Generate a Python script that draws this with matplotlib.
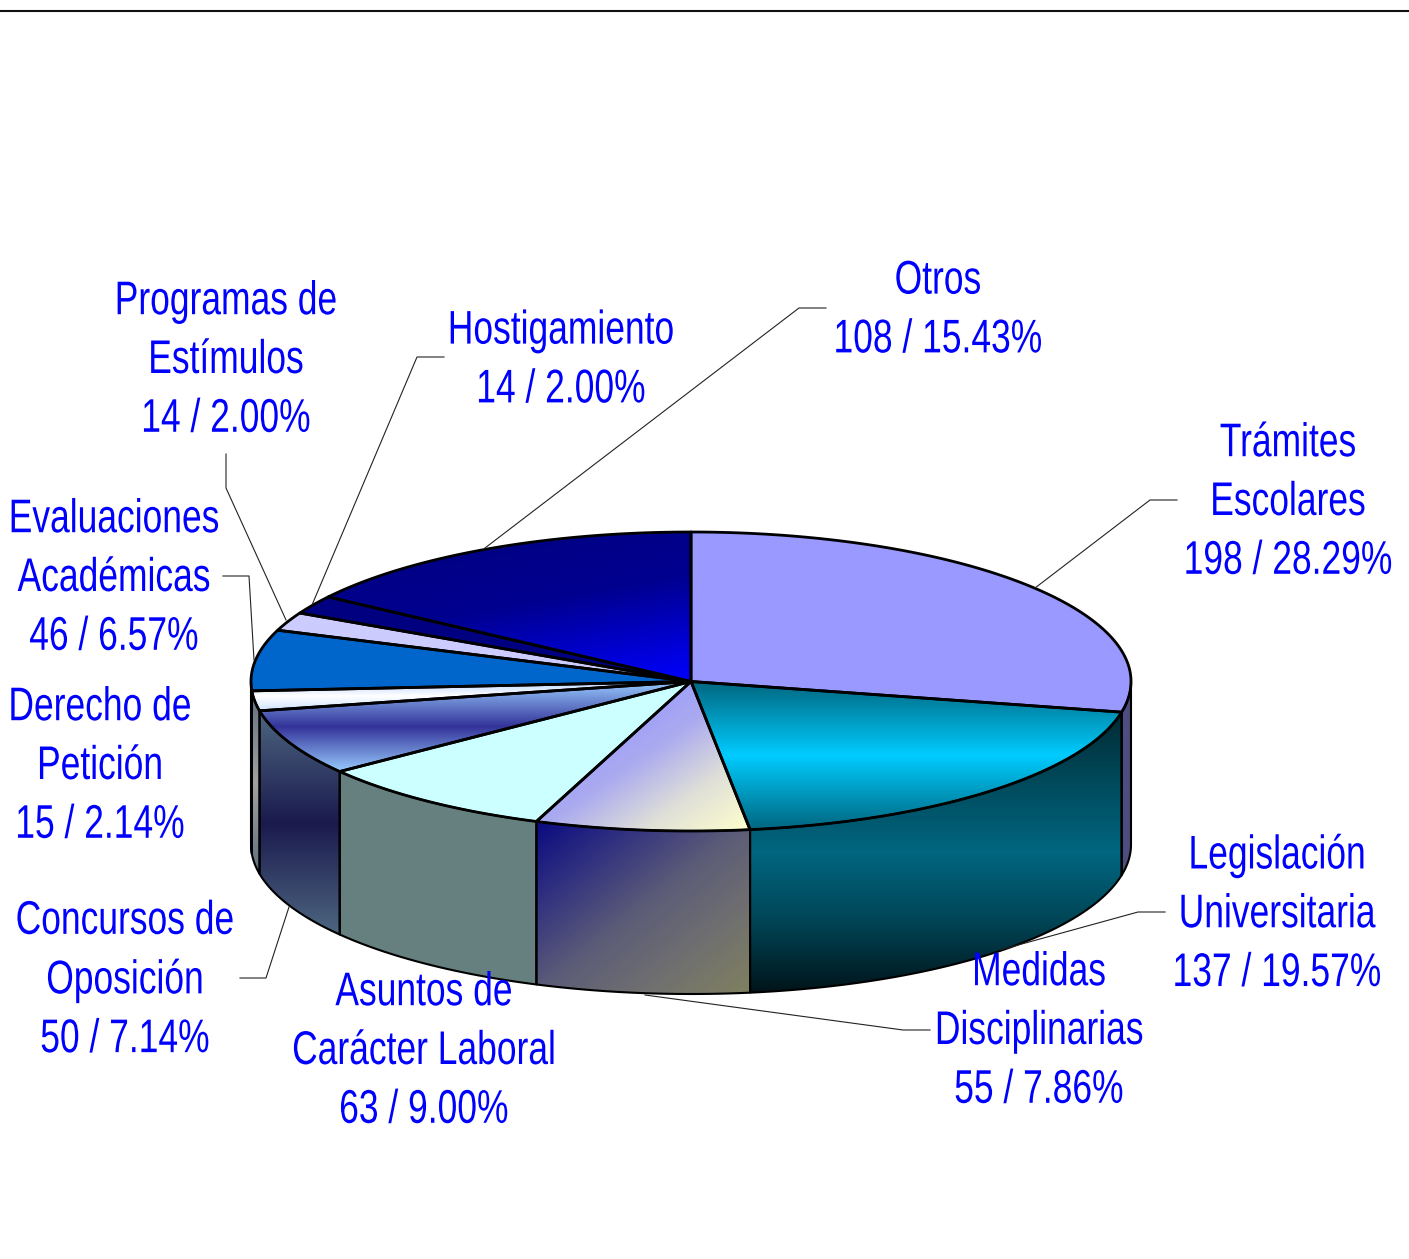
import numpy as np
import matplotlib
matplotlib.use("Agg")
import matplotlib.pyplot as plt
from matplotlib.colors import LinearSegmentedColormap
from matplotlib.patches import Polygon
from matplotlib.patheffects import AbstractPathEffect
from matplotlib.text import Text
from matplotlib.transforms import Affine2D, Bbox

# datos
labels = ["Trámites\nEscolares", "Legislación\nUniversitaria", "Medidas\nDisciplinarias",
          "Asuntos de\nCarácter Laboral", "Concursos de\nOposición", "Derecho de\nPetición",
          "Evaluaciones\nAcadémicas", "Programas de\nEstímulos", "Hostigamiento", "Otros"]
values = [198, 137, 55, 63, 50, 15, 46, 14, 14, 108]

# centro de cada etiqueta (x, y) en pixeles
label_pos = [(1288, 500), (1277, 912), (1039, 1029), (424, 1049), (125, 978),
             (100, 764), (114, 576), (226, 358), (561, 358), (938, 308)]

# lineas guia
leaders = [[(1177, 500), (1150, 500), (1035, 588)],
           [(1165, 912), (1138, 912), (1000, 950)],
           [(930, 1030), (903, 1030), (645, 995)],
           [(240, 978), (266, 978), (289, 907)],
           [(223, 576), (249, 576), (254, 660)],
           [(226, 454), (226, 488), (286, 620)],
           [(444, 357), (417, 357), (312, 605)],
           [(826, 308), (799, 308), (485, 548)]]

# colores: (colores del degradado, direccion x, direccion y)
top_fill = [(["#9999ff", "#9999ff"], 0, 1),
            (["#006680", "#0099bf", "#00ccff", "#0099bf", "#006680"], 0, 1),
            (["#9999ff", "#9999ff", "#aaaaf0", "#e0e0d8", "#ffffcc"], 0.5, 0.5),
            (["#ccffff", "#ccffff"], 0, 1),
            (["#99ccff", "#333399", "#99ccff"], 0, 1),
            (["#bbd4ff", "#ffffff", "#cce4ff"], 0, 1),
            (["#0066cc", "#0066cc"], 0, 1),
            (["#ccccff", "#ccccff"], 0, 1),
            (["#000080", "#000080"], 0, 1),
            (["#000080", "#000090", "#0000ff"], 0.3, 0.7)]
side_fill = [(["#4d4d80", "#4d4d80"], 0, 1),
             (["#002a33", "#004a5c", "#006680", "#004455", "#00141a"], 0, 1),
             (["#0a0a80", "#333380", "#5c5c78", "#707070", "#808060"], 0.5, 0.5),
             (["#668080", "#668080"], 0, 1),
             (["#4d6680", "#1a1a4d", "#4d6680"], 0, 1),
             (["#607080", "#a0a0a0", "#607080"], 0, 1),
             (["#808080", "#808080"], 0, 1),
             (["#808080", "#808080"], 0, 1),
             (["#808080", "#808080"], 0, 1),
             (["#808080", "#808080"], 0, 1)]

cx, cy = 691, 681.5
rx, ry = 440, 149.5
depth = 163
narrow = 0.75


class Squeeze(AbstractPathEffect):
    # el original usa letra estrecha, aqui se comprime en x alrededor del centro
    def __init__(self, sx, x0):
        super().__init__()
        self.sx = sx
        self.x0 = x0

    def draw_path(self, renderer, gc, tpath, affine, rgbFace=None):
        squeeze = Affine2D().translate(-self.x0, 0).scale(self.sx, 1).translate(self.x0, 0)
        renderer.draw_path(gc, tpath, affine + squeeze, rgbFace)


class NarrowText(Text):
    # caja del texto ya comprimido
    def get_window_extent(self, renderer=None, dpi=None):
        bb = super().get_window_extent(renderer, dpi)
        x0 = (bb.x0 + bb.x1) / 2
        return Bbox([[x0 + (bb.x0 - x0) * narrow, bb.y0], [x0 + (bb.x1 - x0) * narrow, bb.y1]])


def arc(a0, a1, dy=0):
    # angulo en grados, desde arriba en sentido horario
    t = np.radians(np.linspace(a0, a1, 200))
    return np.column_stack((cx + rx * np.sin(t), cy - ry * np.cos(t) + dy))


def fill_poly(ax, pts, fill, lw):
    colors, wx, wy = fill
    x0, y0 = pts.min(axis=0)
    x1, y1 = pts.max(axis=0)
    patch = Polygon(pts, closed=True, fc="none", ec="none", transform=ax.transData)
    ax.add_patch(patch)
    xx, yy = np.meshgrid(np.linspace(0, 1, 200), np.linspace(0, 1, 200))
    cmap = LinearSegmentedColormap.from_list("g", colors)
    im = ax.imshow(wx * xx + wy * yy, cmap=cmap, vmin=0, vmax=1, aspect="auto",
                   extent=(x0, x1, y1, y0), origin="upper", interpolation="bilinear")
    im.set_clip_path(patch)
    ax.add_patch(Polygon(pts, closed=True, fc="none", ec="black", lw=lw, joinstyle="round"))


fig = plt.figure(figsize=(14.09, 12.59), dpi=100)
ax = fig.add_axes([0, 0, 1, 1])

total = sum(values)
edges = np.cumsum([0] + values) / total * 360

for line in leaders:
    xs, ys = zip(*line)
    ax.plot(xs, ys, color="#222222", lw=0.8)

# paredes
for i in range(len(values)):
    a0, a1 = max(edges[i], 90), min(edges[i + 1], 270)
    if a1 <= a0:
        continue
    pts = np.vstack((arc(a0, a1), arc(a1, a0, depth)))
    fill_poly(ax, pts, side_fill[i], 1.5)

# tapa
for i in range(len(values)):
    pts = np.vstack(([(cx, cy)], arc(edges[i], edges[i + 1])))
    fill_poly(ax, pts, top_fill[i], 2.0)

ax.plot([0, 1409], [11, 11], color="#111111", lw=1.5, solid_capstyle="butt")

ax.set_xlim(0, 1409)
ax.set_ylim(1259, 0)
ax.axis("off")

for name, v, (x, y) in zip(labels, values, label_pos):
    txt = "%s\n%d / %.2f%%" % (name, v, v / total * 100)
    t = NarrowText(x, y + 3, txt, color="#0000ff", fontsize=34, ha="center", va="center", ma="center",
                   family="Liberation Sans", linespacing=1.435)
    t.set_path_effects([Squeeze(narrow, ax.transData.transform((x, y))[0])])
    ax.add_artist(t)

fig.savefig("out.png", dpi=100)
